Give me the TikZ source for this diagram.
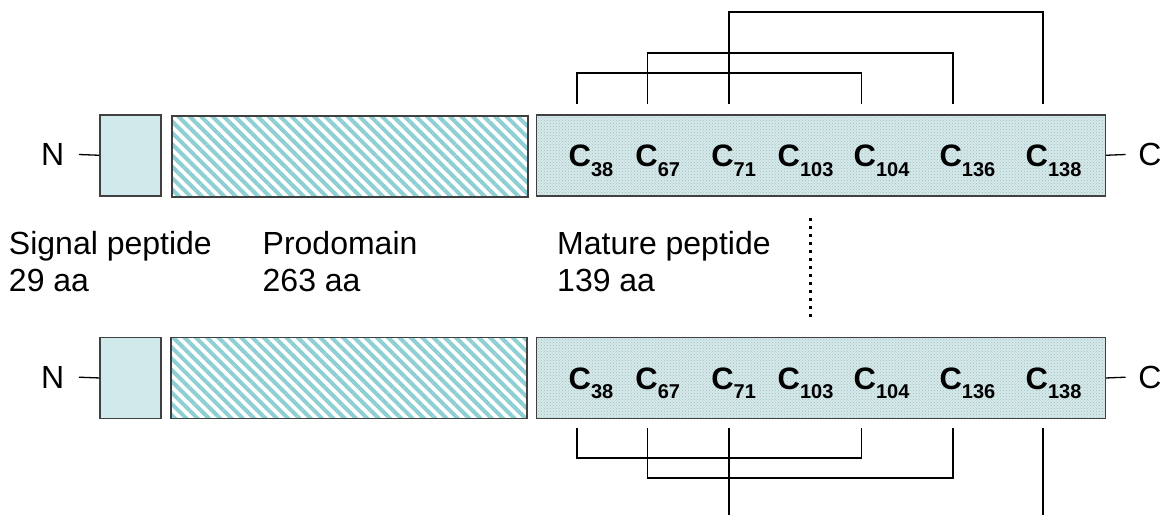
\documentclass[tikz,border=0pt]{standalone}
\usepackage{fontspec}
\setmainfont{Liberation Sans}
\usetikzlibrary{patterns,patterns.meta}

\definecolor{sigfill}{HTML}{D0E9EB}
\definecolor{stripe}{HTML}{8ECFD3}
\definecolor{matfill}{HTML}{D6E9EA}
\definecolor{matdot}{HTML}{9FBFC1}
\definecolor{edge}{HTML}{404040}

% lowered subscript for the cysteine positions
\newcommand\cyssub[1]{\raisebox{-9.5pt}{\fontsize{20}{20}\selectfont #1}}

\tikzset{
  seqbox/.style={draw=edge, line width=1.5pt, inner sep=0pt, anchor=north west,
                 minimum height=81pt},
  signalbox/.style={seqbox, fill=sigfill, minimum width=61pt},
  probox/.style={seqbox, preaction={fill=white},
              pattern={Lines[angle=-45,distance=8pt,line width=4pt]},
              pattern color=stripe, minimum width=356pt},
  maturebox/.style={seqbox, preaction={fill=matfill},
                 pattern=crosshatch dots, pattern color=matdot,
                 minimum width=569pt},
  termlabel/.style={inner ysep=0pt, font=\fontsize{32}{32}\selectfont},
  cyslabel/.style={anchor=base west, inner sep=0pt,
              font=\fontsize{31}{31}\selectfont\bfseries},
  domcaption/.style={anchor=base west, inner sep=0pt, align=left,
                  font=\fontsize{32}{37.7}\selectfont},
  tetherline/.style={line width=1.3pt, black},
  bridgeline/.style={line width=1.8pt, black},
  gapline/.style={line width=3pt, black, dash pattern=on 3pt off 5pt}
}

\begin{document}
\begin{tikzpicture}[x=1pt,y=-1pt]
\useasboundingbox (0,0) rectangle (1166,515);

% ---- upper chain ----
\node[signalbox] (sigA) at (99.3,114) {};
\node[probox]    (proA) at (170,114) {};
\node[maturebox] (matA) at (535.7,114) {};
\node[termlabel, inner xsep=14.5pt]  (nA) at (52.7,154.5) {N};
\node[termlabel, inner xsep=12.75pt] (cA) at (1150,154.5) {C};
\draw[tetherline] (nA.east) -- (sigA.west);
\draw[tetherline] (matA.east) -- (cA.west);

\foreach \x/\n in {568.5/38, 635.2/67, 711.1/71, 777.5/103, 853.5/104, 939.3/136, 1025.5/138}
  \node[cyslabel] (a\n) at (\x,166.7) {C\cyssub{\n}};

% disulfide bridges above the upper chain
\foreach \n/\x in {38/577, 67/647.5, 71/729, 104/861.5, 136/953, 138/1043}
  \coordinate (ta\n) at (\x,104);
\draw[bridgeline] (ta38) -- (ta38 |- 0,72.7) -| (ta104);
\draw[bridgeline] (ta67) -- (ta67 |- 0,52.7) -| (ta136);
\draw[bridgeline] (ta71) -- (ta71 |- 0,12.3) -| (ta138);

% ---- domain captions (anchored on the baseline of the last line) ----
\node[domcaption] (capSig) at (8.8,291.7) {Signal peptide\\29 aa};
\node[domcaption] (capPro) at (262.5,291.7) {Prodomain\\263 aa};
\node[domcaption] (capMat) at (557,291.7) {Mature peptide\\139 aa};

\coordinate (gapTop) at (810,218.2);
\coordinate (gapBot) at (810,318);
\draw[gapline] (gapTop) -- (gapBot);

% ---- lower chain ----
\node[signalbox] (sigB) at (99.3,336.7) {};
\node[probox]    (proB) at (170,336.7) {};
\node[maturebox] (matB) at (535.7,336.7) {};
\node[termlabel, inner xsep=14.5pt]  (nB) at (52.7,377.2) {N};
\node[termlabel, inner xsep=12.75pt] (cB) at (1150,377.2) {C};
\draw[tetherline] (nB.east) -- (sigB.west);
\draw[tetherline] (matB.east) -- (cB.west);

\foreach \x/\n in {568.5/38, 635.2/67, 711.1/71, 777.5/103, 853.5/104, 939.3/136, 1025.5/138}
  \node[cyslabel] (b\n) at (\x,389.4) {C\cyssub{\n}};

% bridges below the lower chain
\foreach \n/\x in {38/577, 67/647.5, 71/729, 104/861.5, 136/953, 138/1043}
  \coordinate (tb\n) at (\x,427.5);
\coordinate (end71) at (729,515);
\coordinate (end138) at (1043,515);
\draw[bridgeline] (tb38) -- (tb38 |- 0,457.7) -| (tb104);
\draw[bridgeline] (tb67) -- (tb67 |- 0,478.3) -| (tb136);
\draw[bridgeline] (tb71) -- (end71);
\draw[bridgeline] (tb138) -- (end138);
\end{tikzpicture}
\end{document}
